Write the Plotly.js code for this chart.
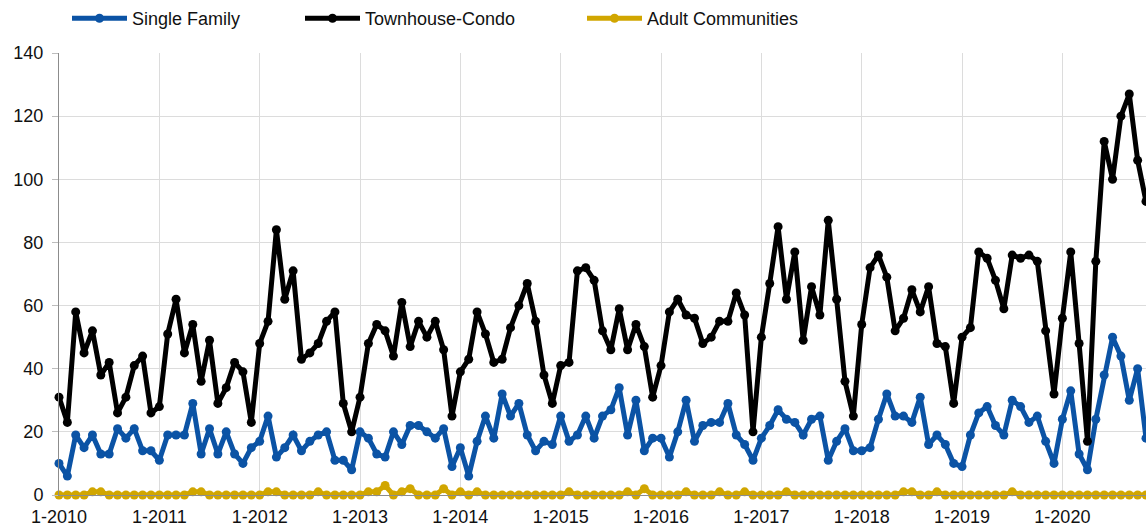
<!DOCTYPE html>
<html>
<head>
<meta charset="utf-8">
<script src="https://cdn.plot.ly/plotly-3.0.1.min.js"></script>
<style>
html,body{margin:0;padding:0;background:#fff;}
#chart{width:1146px;height:528px;}
</style>
</head>
<body>
<div id="chart"></div>
<script>
// Monthly data, January 2010 to November 2020
var startYear = 2010;
var singleFamily = [
  10, 6, 19, 15, 19, 13, 13, 21, 18, 21, 14, 14,
  11, 19, 19, 19, 29, 13, 21, 13, 20, 13, 10, 15,
  17, 25, 12, 15, 19, 14, 17, 19, 20, 11, 11, 8,
  20, 18, 13, 12, 20, 16, 22, 22, 20, 18, 21, 9,
  15, 6, 17, 25, 18, 32, 25, 29, 19, 14, 17, 16,
  25, 17, 19, 25, 18, 25, 27, 34, 19, 30, 14, 18,
  18, 12, 20, 30, 17, 22, 23, 23, 29, 19, 16, 11,
  18, 22, 27, 24, 23, 19, 24, 25, 11, 17, 21, 14,
  14, 15, 24, 32, 25, 25, 23, 31, 16, 19, 16, 10,
  9, 19, 26, 28, 22, 19, 30, 28, 23, 25, 17, 10,
  24, 33, 13, 8, 24, 38, 50, 44, 30, 40, 18
];
var townhouseCondo = [
  31, 23, 58, 45, 52, 38, 42, 26, 31, 41, 44, 26,
  28, 51, 62, 45, 54, 36, 49, 29, 34, 42, 39, 23,
  48, 55, 84, 62, 71, 43, 45, 48, 55, 58, 29, 20,
  31, 48, 54, 52, 44, 61, 47, 55, 50, 55, 46, 25,
  39, 43, 58, 51, 42, 43, 53, 60, 67, 55, 38, 29,
  41, 42, 71, 72, 68, 52, 46, 59, 46, 54, 47, 31,
  41, 58, 62, 57, 56, 48, 50, 55, 55, 64, 57, 20,
  50, 67, 85, 62, 77, 49, 66, 57, 87, 62, 36, 25,
  54, 72, 76, 69, 52, 56, 65, 58, 66, 48, 47, 29,
  50, 53, 77, 75, 68, 59, 76, 75, 76, 74, 52, 32,
  56, 77, 48, 17, 74, 112, 100, 120, 127, 106, 93
];
var adultCommunities = [
  0, 0, 0, 0, 1, 1, 0, 0, 0, 0, 0, 0,
  0, 0, 0, 0, 1, 1, 0, 0, 0, 0, 0, 0,
  0, 1, 1, 0, 0, 0, 0, 1, 0, 0, 0, 0,
  0, 1, 1, 3, 0, 1, 2, 0, 0, 0, 2, 0,
  1, 0, 1, 0, 0, 0, 0, 0, 0, 0, 0, 0,
  0, 1, 0, 0, 0, 0, 0, 0, 1, 0, 2, 0,
  0, 0, 0, 1, 0, 0, 0, 1, 0, 0, 1, 0,
  0, 0, 0, 1, 0, 0, 0, 0, 0, 0, 0, 0,
  0, 0, 0, 0, 0, 1, 1, 0, 0, 1, 0, 0,
  0, 0, 0, 0, 0, 0, 1, 0, 0, 0, 0, 0,
  0, 0, 0, 0, 0, 0, 0, 0, 0, 0, 0
];
var seriesNames = ["Single Family", "Townhouse-Condo", "Adult Communities"];
var seriesColors = ["#0b53a5", "#000000", "#d1a600"];
var yTicks = [0, 20, 40, 60, 80, 100, 120, 140];

// month category labels "m-yyyy"
var months = [];
for (var i = 0; i < singleFamily.length; i++) {
  var m = i % 12 + 1, y = startYear + Math.floor(i / 12);
  months.push(m + "-" + y);
}
var yearTicks = months.filter(function (s) { return s.split("-")[0] === "1"; });

var FONT = "Liberation Sans, Arial, Helvetica, sans-serif";
var seriesData = [singleFamily, townhouseCondo, adultCommunities];
var legendIds = ["legend", "legend2", "legend3"];
var traces = seriesData.map(function (vals, k) {
  return {
    type: "scatter", mode: "lines+markers",
    x: months, y: vals, name: seriesNames[k],
    line: {color: seriesColors[k], width: 5},
    marker: {color: seriesColors[k], size: 9},
    cliponaxis: false,
    legend: legendIds[k]
  };
});

function legendAt(xpx) {
  return {
    x: (xpx - 59) / 1087, xref: "paper", xanchor: "left",
    y: 1.079, yref: "paper", yanchor: "middle",
    orientation: "h", itemwidth: 55,
    font: {family: FONT, size: 18, color: "#111"},
    bgcolor: "rgba(0,0,0,0)", borderwidth: 0
  };
}

var layout = {
  width: 1146, height: 528,
  margin: {l: 59, r: 0, t: 49, b: 33, pad: 0},
  paper_bgcolor: "#fff", plot_bgcolor: "#fff",
  font: {family: FONT, size: 18, color: "#111"},
  showlegend: true,
  legend: legendAt(67),
  legend2: legendAt(300),
  legend3: legendAt(582),
  xaxis: {
    type: "category",
    range: [0, months.length - 1],
    tickmode: "array", tickvals: yearTicks, ticktext: yearTicks,
    showgrid: true, gridcolor: "#dcdcdc", gridwidth: 1,
    showline: true, linecolor: "#8c8c8c", linewidth: 1,
    ticks: "", zeroline: false,
    ticklabelstandoff: 5,
    tickfont: {family: FONT, size: 18, color: "#111"}
  },
  yaxis: {
    range: [0, 140],
    tickmode: "array", tickvals: yTicks,
    showgrid: true, gridcolor: "#dcdcdc", gridwidth: 1,
    showline: true, linecolor: "#8c8c8c", linewidth: 1,
    ticks: "outside", ticklen: 6, tickcolor: "#bdbdbd",
    zeroline: false,
    ticklabelstandoff: 5,
    tickfont: {family: FONT, size: 18, color: "#111"}
  }
};

Plotly.newPlot("chart", traces, layout, {displayModeBar: false, staticPlot: true});
</script>
</body>
</html>
